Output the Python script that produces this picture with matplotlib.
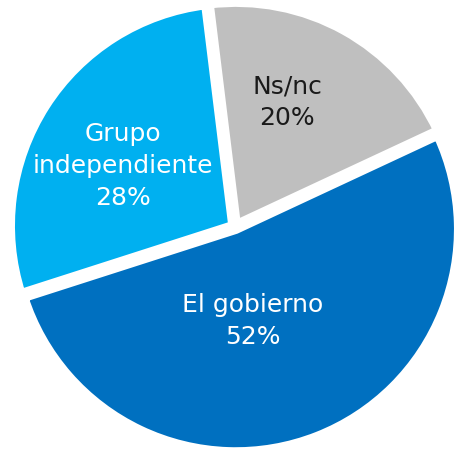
import matplotlib
matplotlib.use("Agg")
import matplotlib.pyplot as plt
import numpy as np

labels = ["Ns/nc", "El gobierno", "Grupo\nindependiente"]
values = [20, 52, 28]

# styling
colors = ["#BFBFBF", "#0070C0", "#00B0F0"]
text_colors = ["#1a1a1a", "white", "white"]

W, H = 455, 449
cx, cy, r = 235, 227, 223  # pixel centre and wedge radius
label_px = [(287, 102), (253, 321), (123, 166)]

fig = plt.figure(figsize=(W / 100, H / 100), dpi=100)
ax = fig.add_axes([0, 0, 1, 1])
ax.axis("off")

wedges, _ = ax.pie(values, colors=colors, startangle=97, counterclock=False,
                   radius=1.0, explode=[0.01] * len(values),
                   wedgeprops=dict(edgecolor="white", linewidth=7),
                   frame=False)
ax.set_xlim(-cx / r, (W - cx) / r)
ax.set_ylim(-(H - cy) / r, cy / r)
ax.set_aspect("auto")

for lab, v, tc, (px, py) in zip(labels, values, text_colors, label_px):
    ax.text((px - cx) / r, (cy - py) / r, f"{lab}\n{v}%", ha="center",
            va="center", color=tc, fontsize=18, linespacing=1.4,
            family="DejaVu Sans")

fig.savefig("out.png", dpi=100)
